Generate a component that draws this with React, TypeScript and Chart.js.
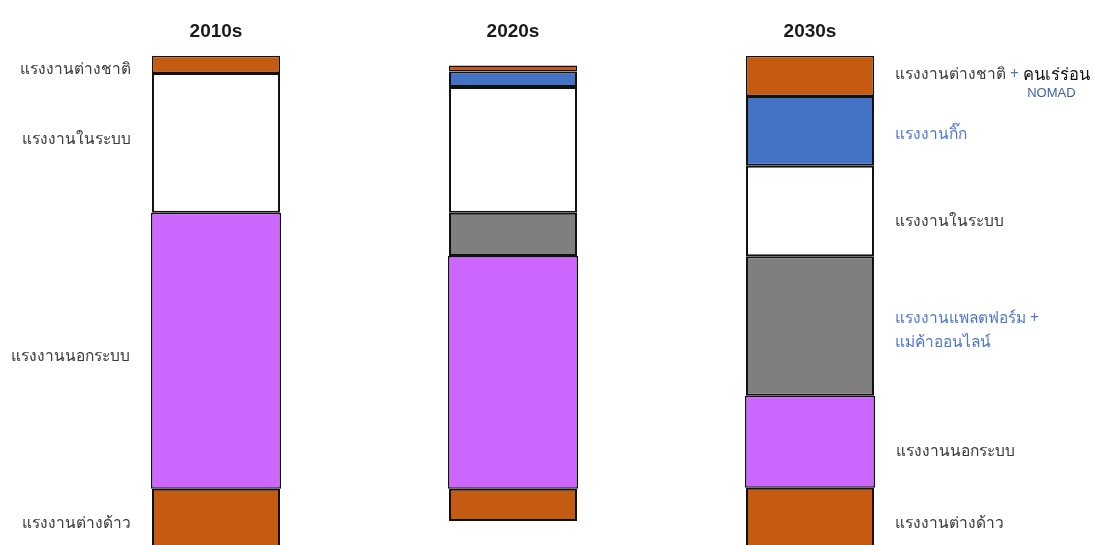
import React, { useEffect, useRef } from "react";
import { Chart, registerables } from "chart.js";

Chart.register(...registerables);

// Decades shown as columns
const decades = ["2010s", "2020s", "2030s"];

// Floating segments [from, to] on a 0–100 height scale, one entry per decade
const migrantWorkers: ([number, number] | null)[] = [[-2.1, 11.5], [4.9, 11.5], [-2.1, 11.7]];
const informalWorkers: ([number, number] | null)[] = [[11.5, 67.9], [11.5, 59.1], [11.7, 30.5]];
const platformWorkers: ([number, number] | null)[] = [null, [59.1, 67.9], [30.5, 59.0]];
const formalWorkers: ([number, number] | null)[] = [[67.9, 96.5], [67.9, 93.6], [59.0, 77.5]];
const gigWorkers: ([number, number] | null)[] = [null, [93.6, 96.8], [77.5, 91.8]];
const foreignWorkers: ([number, number] | null)[] = [[96.5, 100], [96.8, 98.0], [91.8, 100]];

// Segment names
const migrantName = "แรงงานต่างด้าว";
const informalName = "แรงงานนอกระบบ";
const platformName = ["แรงงานแพลตฟอร์ม +", "แม่ค้าออนไลน์"];
const formalName = "แรงงานในระบบ";
const gigName = "แรงงานกิ๊ก";
const foreignName = "แรงงานต่างชาติ";
const nomadName = "คนเร่ร่อน";
const nomadTag = "NOMAD";

const ORANGE = "#C55A11";
const BLUE = "#4472C4";
const GREY = "#7F7F7F";
const PURPLE = "#CC66FF";
const TEXT = "#3a3a3a";
const TEXT_BLUE = "#4f78cc";
const THAI_FONT = "'Noto Sans', 'DejaVu Sans', sans-serif";

type Run = { text: string; color: string; font: string; sub?: { text: string; color: string; font: string } };
type LabelSpec = { ds: number; bar: number; side: "left" | "right"; lines: Run[][]; dy: number };

const fThai = `15.5px ${THAI_FONT}`;
const run = (text: string, color = TEXT, font = fThai): Run => ({ text, color, font });

const labelSpecs: LabelSpec[] = [
  // 2010s, left side
  { ds: 5, bar: 0, side: "left", lines: [[run(foreignName)]], dy: 5 },
  { ds: 3, bar: 0, side: "left", lines: [[run(formalName)]], dy: -3 },
  { ds: 1, bar: 0, side: "left", lines: [[run(informalName)]], dy: 6 },
  { ds: 0, bar: 0, side: "left", lines: [[run(migrantName)]], dy: 2 },
  // 2030s, right side
  {
    ds: 5,
    bar: 2,
    side: "right",
    lines: [[
      run(foreignName),
      run(" + ", TEXT_BLUE),
      {
        text: nomadName,
        color: "#111111",
        font: `16.5px ${THAI_FONT}`,
        sub: { text: nomadTag, color: "#3f5fae", font: "13px 'Liberation Sans', Arial, sans-serif" },
      },
    ]],
    dy: -1,
  },
  { ds: 4, bar: 2, side: "right", lines: [[run(gigName, TEXT_BLUE)]], dy: 4 },
  { ds: 3, bar: 2, side: "right", lines: [[run(formalName)]], dy: 10 },
  { ds: 2, bar: 2, side: "right", lines: [[run(platformName[0], TEXT_BLUE)], [run(platformName[1], TEXT_BLUE)]], dy: 4 },
  { ds: 1, bar: 2, side: "right", lines: [[run(informalName)]], dy: 10 },
  { ds: 0, bar: 2, side: "right", lines: [[run(migrantName)]], dy: 2 },
];

const segmentLabels = {
  id: "segmentLabels",
  afterDatasetsDraw(chart: any) {
    const ctx: CanvasRenderingContext2D = chart.ctx;
    ctx.save();
    ctx.textBaseline = "middle";
    const gap = 21;
    const lineGap = 24;
    for (const spec of labelSpecs) {
      const el: any = chart.getDatasetMeta(spec.ds).data[spec.bar];
      if (!el) continue;
      const { x, y, base, width } = el.getProps(["x", "y", "base", "width"], true);
      const cy = (y + base) / 2 + spec.dy;
      const n = spec.lines.length;
      spec.lines.forEach((line, li) => {
        const ly = cy + (li - (n - 1) / 2) * lineGap;
        let total = 0;
        for (const r of line) {
          ctx.font = r.font;
          total += ctx.measureText(r.text).width;
        }
        let cx = spec.side === "left" ? x - width / 2 - gap - total : x + width / 2 + gap;
        for (const r of line) {
          ctx.font = r.font;
          ctx.fillStyle = r.color;
          ctx.textAlign = "left";
          const w = ctx.measureText(r.text).width;
          ctx.fillText(r.text, cx, ly);
          if (r.sub) {
            ctx.font = r.sub.font;
            ctx.fillStyle = r.sub.color;
            ctx.textAlign = "center";
            ctx.fillText(r.sub.text, cx + w / 2 - 5, ly + 19);
          }
          cx += w;
        }
      });
    }
    ctx.restore();
  },
};

const seg = (label: string, data: ([number, number] | null)[], color: string, extra: any = {}) => ({
  label,
  data,
  backgroundColor: color,
  borderColor: "#111111",
  borderWidth: 2,
  borderSkipped: false,
  barPercentage: 128 / 297,
  categoryPercentage: 1,
  ...extra,
});

export default function App() {
  const canvasRef = useRef<HTMLCanvasElement | null>(null);

  useEffect(() => {
    if (!canvasRef.current) return;
    const chart = new Chart(canvasRef.current, {
      type: "bar",
      data: {
        labels: decades,
        datasets: [
          seg(migrantName, migrantWorkers, ORANGE),
          seg(informalName, informalWorkers, PURPLE, { borderWidth: 1.5, barPercentage: 130 / 297 }),
          seg(platformName.join(" "), platformWorkers, GREY),
          seg(formalName, formalWorkers, "#FFFFFF"),
          seg(gigName, gigWorkers, BLUE),
          seg(foreignName, foreignWorkers, ORANGE, { borderWidth: 1.5 }),
        ] as any,
      },
      options: {
        animation: false,
        responsive: true,
        maintainAspectRatio: false,
        layout: { padding: { top: 15, bottom: 0, left: 67.5, right: 135.5 } },
        plugins: { legend: { display: false }, tooltip: { enabled: false } },
        scales: {
          x: {
            position: "top",
            stacked: true,
            grid: { display: false },
            border: { display: false },
            ticks: {
              padding: 5,
              color: "#1a1a1a",
              font: { family: "'Liberation Sans', Arial, sans-serif", size: 19, weight: "bold" },
            },
          },
          y: { display: false, min: 0, max: 100, stacked: false },
        },
      },
      plugins: [segmentLabels],
    });
    return () => chart.destroy();
  }, []);

  return (
    <div style={{ position: "fixed", left: 0, top: 0, width: 1094, height: 545, background: "#fff" }}>
      <canvas ref={canvasRef} />
    </div>
  );
}
